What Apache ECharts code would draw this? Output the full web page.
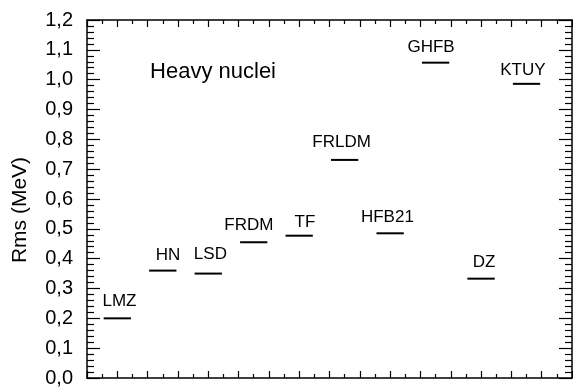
<!DOCTYPE html>
<html>
<head>
<meta charset="utf-8">
<script src="https://cdn.jsdelivr.net/npm/echarts@6/dist/echarts.min.js"></script>
<style>html,body{margin:0;padding:0;background:#fff}#c{width:573px;height:388px}</style>
</head>
<body>
<div id="c"></div>
<script>
const categories = ['LMZ','HN','LSD','FRDM','TF','FRLDM','HFB21','GHFB','DZ','KTUY'];
const xPos = [1, 2.5, 4, 5.5, 7, 8.5, 10, 11.5, 13, 14.5];
const rms = [0.20, 0.36, 0.35, 0.455, 0.477, 0.731, 0.485, 1.057, 0.333, 0.986];
const labelX = [1.07, 2.67, 4.07, 5.34, 7.19, 8.40, 9.91, 11.35, 13.10, 14.38];
const labelY = [0.256, 0.412, 0.416, 0.513, 0.523, 0.789, 0.540, 1.107, 0.389, 1.033];
const annotation = ['Heavy nuclei'];
const annotationPos = [[2.08, 1.026]];

const FONT = '"Liberation Sans", Arial, sans-serif';
const chart = echarts.init(document.getElementById('c'), null, {renderer: 'canvas'});

const axisCommon = {
  axisLine: {show: true, onZero: false, lineStyle: {color: '#000', width: 1.5}},
  splitLine: {show: false}
};

const option = {
  animation: false,
  backgroundColor: '#fff',
  grid: {left: 87, right: 1, top: 20, bottom: 10, containLabel: false},
  xAxis: [
    Object.assign({}, axisCommon, {
      type: 'value', min: 0, max: 16, interval: 1, position: 'bottom',
      axisTick: {show: true, inside: true, length: 7, lineStyle: {color: '#000', width: 1.2}},
      minorTick: {show: true, splitNumber: 2, length: 4, lineStyle: {color: '#000', width: 1.2}},
      axisLabel: {show: false}
    }),
    Object.assign({}, axisCommon, {
      type: 'value', min: 0, max: 16, interval: 1, position: 'top',
      axisTick: {show: true, inside: true, length: 7, lineStyle: {color: '#000', width: 1.2}},
      minorTick: {show: true, splitNumber: 2, length: 4, lineStyle: {color: '#000', width: 1.2}},
      axisLabel: {show: false}
    })
  ],
  yAxis: [
    Object.assign({}, axisCommon, {
      type: 'value', min: 0, max: 1.2, interval: 0.1, position: 'left',
      axisTick: {show: true, inside: true, length: 13, lineStyle: {color: '#000', width: 1.2}},
      minorTick: {show: true, splitNumber: 5, length: 7, lineStyle: {color: '#000', width: 1.2}},
      axisLabel: {show: true, margin: 14, color: '#000', fontSize: 20, fontFamily: FONT,
        formatter: v => v.toFixed(1).replace('.', ',')}
    }),
    Object.assign({}, axisCommon, {
      type: 'value', min: 0, max: 1.2, interval: 0.1, position: 'right',
      axisTick: {show: true, inside: true, length: 13, lineStyle: {color: '#000', width: 1.2}},
      minorTick: {show: true, splitNumber: 5, length: 7, lineStyle: {color: '#000', width: 1.2}},
      axisLabel: {show: false}
    })
  ],
  graphic: [{
    type: 'text', x: 20, y: 210, rotation: Math.PI / 2,
    style: {text: 'Rms (MeV)', fill: '#000', font: '21px ' + FONT, align: 'center', verticalAlign: 'middle'}
  }],
  series: [
    {
      type: 'custom', xAxisIndex: 0, yAxisIndex: 0,
      data: categories.map((c, i) => [xPos[i], rms[i], labelX[i], labelY[i]]),
      encode: {x: 0, y: 1},
      renderItem: function (params, api) {
        const x = api.value(0), y = api.value(1);
        const p1 = api.coord([x - 0.45, y]);
        const p2 = api.coord([x + 0.45, y]);
        const t = api.coord([api.value(2), api.value(3)]);
        return {
          type: 'group',
          children: [
            {type: 'line', shape: {x1: p1[0], y1: p1[1], x2: p2[0], y2: p2[1]},
             style: {stroke: '#000', lineWidth: 2}},
            {type: 'text', x: t[0], y: t[1],
             style: {text: categories[params.dataIndex], fill: '#000', font: '17px ' + FONT,
                     align: 'center', verticalAlign: 'middle'}}
          ]
        };
      }
    },
    {
      type: 'custom', xAxisIndex: 0, yAxisIndex: 0,
      data: annotationPos,
      encode: {x: 0, y: 1},
      renderItem: function (params, api) {
        const p = api.coord([api.value(0), api.value(1)]);
        return {type: 'text', x: p[0], y: p[1],
          style: {text: annotation[params.dataIndex], fill: '#000', font: '22px ' + FONT,
                  align: 'left', verticalAlign: 'middle'}};
      }
    }
  ]
};
chart.setOption(option);
</script>
</body>
</html>
